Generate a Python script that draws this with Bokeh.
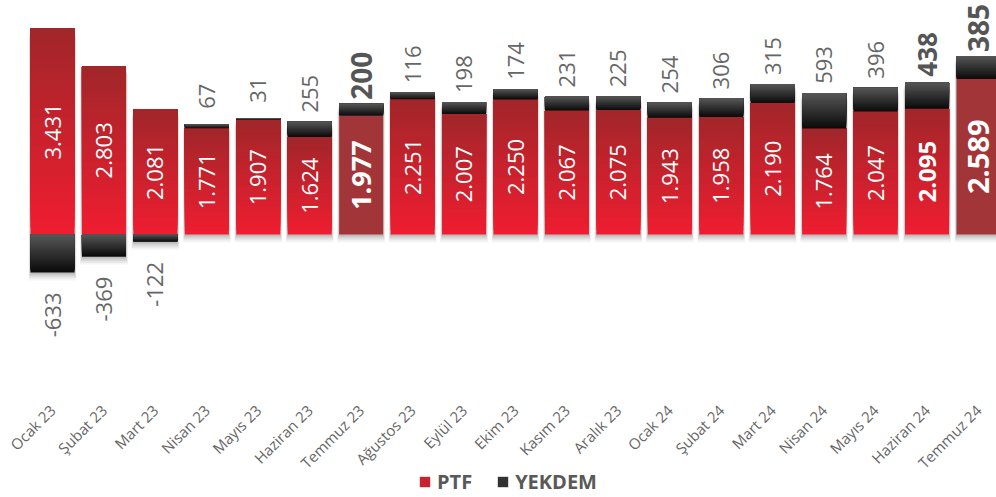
import math
from bokeh.plotting import figure
from bokeh.models import (ColumnDataSource, Legend, LegendItem, Range1d)
from bokeh.core.properties import value
from bokeh.embed import file_html
from bokeh.resources import INLINE

# ---------------- data ----------------
months = ["Ocak 23", "Şubat 23", "Mart 23", "Nisan 23", "Mayıs 23", "Haziran 23",
          "Temmuz 23", "Ağustos 23", "Eylül 23", "Ekim 23", "Kasım 23", "Aralık 23",
          "Ocak 24", "Şubat 24", "Mart 24", "Nisan 24", "Mayıs 24", "Haziran 24",
          "Temmuz 24"]
ptf = [3431, 2803, 2081, 1771, 1907, 1624, 1977, 2251, 2007, 2250, 2067, 2075,
       1943, 1958, 2190, 1764, 2047, 2095, 2589]
yekdem = [-633, -369, -122, 67, 31, 255, 200, 116, 198, 174, 231, 225,
          254, 306, 315, 593, 396, 438, 385]
highlight = [6, 18]          # solid coloured months
bold_idx = [6, 17, 18]       # bold labels

# ---------------- layout constants ----------------
FRAME_H = 497
FRAME_W = 996
PXU = 16.655                  # data units per pixel
Y1 = 3897
Y0 = Y1 - FRAME_H * PXU
X0, X1 = -1.011, 18.35
px = PXU
BAR_W = 0.855
N = 28
MONTH_Y = Y1 - 407 * PXU      # row of the month labels

def fmt(v):
    return f"{v:,}".replace(",", ".")

def hex2rgb(h):
    h = h.lstrip("#")
    return tuple(int(h[i:i + 2], 16) for i in (0, 2, 4))

def lerp(c1, c2, t):
    a, b = hex2rgb(c1), hex2rgb(c2)
    return "#%02x%02x%02x" % tuple(round(a[i] + (b[i] - a[i]) * t) for i in range(3))

RED_BOT, RED_TOP = "#EE1D30", "#A2262A"
BLK_BOT, BLK_TOP = "#0b0b0b", "#565656"
HL = "#A23537"

p = figure(frame_width=FRAME_W, frame_height=FRAME_H, output_backend="svg",
           toolbar_location=None, x_range=Range1d(X0, X1), y_range=Range1d(Y0, Y1),
           x_axis_location=None, y_axis_location=None,
           min_border_left=0, min_border_right=0, min_border_top=0, min_border_bottom=0)
p.outline_line_color = None
p.grid.visible = False
p.background_fill_color = "white"
p.border_fill_color = "white"

# ---------------- shadows ----------------
n = len(months)
tops = [ptf[i] + max(yekdem[i], 0) for i in range(n)]
bots = [min(yekdem[i], 0) for i in range(n)]
for off, alpha, grow in [(2, 0.10, 1), (4, 0.08, 2), (6, 0.06, 3), (8, 0.04, 4)]:
    gx = grow * (X1 - X0) / FRAME_W
    p.quad(left=[i - BAR_W / 2 - gx / 2 for i in range(n)],
           right=[i + BAR_W / 2 + gx / 2 for i in range(n)],
           bottom=[b - off * px for b in bots], top=[t - off * px for t in tops],
           fill_color="black", fill_alpha=alpha, line_color=None)

# ---------------- gradient bars ----------------
pt = dict(left=[], right=[], bottom=[], top=[], color=[])
yk = dict(left=[], right=[], bottom=[], top=[], color=[])
def add(d, i, b, t, c):
    d["left"].append(i - BAR_W / 2); d["right"].append(i + BAR_W / 2)
    d["bottom"].append(b); d["top"].append(t); d["color"].append(c)

for i in range(n):
    if i in highlight:
        add(pt, i, 0, ptf[i], HL)
    else:
        for k in range(N):
            add(pt, i, ptf[i] * k / N, ptf[i], lerp(RED_BOT, RED_TOP, k / (N - 1)))
    if yekdem[i] >= 0:
        lo, hi = ptf[i], ptf[i] + yekdem[i]
    else:
        lo, hi = yekdem[i], 0
    for k in range(N):
        add(yk, i, lo + (hi - lo) * k / N, hi, lerp(BLK_BOT, BLK_TOP, k / (N - 1)))

r_ptf = p.quad(source=ColumnDataSource(pt), left="left", right="right", bottom="bottom",
               top="top", fill_color="color", line_color=None)
r_yek = p.quad(source=ColumnDataSource(yk), left="left", right="right", bottom="bottom",
               top="top", fill_color="color", line_color=None)

# ---------------- value labels ----------------
in_size = {6: "27px", 17: "24px", 18: "29px"}
src_in = ColumnDataSource(dict(
    x=list(range(n)), y=[v / 2 for v in ptf], t=[fmt(v) for v in ptf],
    size=[in_size.get(i, "22px") for i in range(n)],
    style=["bold" if i in bold_idx else "normal" for i in range(n)]))
p.text(x="x", y="y", text="t", source=src_in, angle=math.pi / 2,
       text_align="center", text_baseline="middle", text_color="white",
       text_font=value("Open Sans"), text_font_size="size", text_font_style="style")

pos = [i for i in range(n) if yekdem[i] >= 0]
out_size = {6: "28px", 17: "26px", 18: "28px"}
src_pos = ColumnDataSource(dict(
    x=pos, y=[tops[i] + 28 * px for i in pos], t=[fmt(yekdem[i]) for i in pos],
    size=[out_size.get(i, "22px") for i in pos],
    style=["bold" if i in bold_idx else "normal" for i in pos],
    color=["#555555" if i in bold_idx else "#666666" for i in pos]))
p.text(x="x", y="y", text="t", source=src_pos, angle=math.pi / 2,
       text_align="center", text_baseline="middle", text_color="color",
       text_font=value("Open Sans"), text_font_size="size", text_font_style="style")

neg = [i for i in range(n) if yekdem[i] < 0]
src_neg = ColumnDataSource(dict(
    x=neg, y=[yekdem[i] - 20 * px for i in neg], t=[str(yekdem[i]) for i in neg]))
p.text(x="x", y="y", text="t", source=src_neg, angle=math.pi / 2,
       text_align="right", text_baseline="middle", text_color="#666666",
       text_font=value("Open Sans"), text_font_size="22px")

# ---------------- month (category) labels ----------------
src_m = ColumnDataSource(dict(x=list(range(n)), y=[MONTH_Y] * n, t=months))
p.text(x="x", y="y", text="t", source=src_m, angle=math.pi / 4,
       text_align="right", text_baseline="middle", text_color="#666666",
       text_font=value("Open Sans"), text_font_size="15px")

# ---------------- legend ----------------
legend = Legend(items=[LegendItem(label="PTF", renderers=[r_ptf], index=N // 2),
                       LegendItem(label="YEKDEM", renderers=[r_yek], index=N // 2)],
                orientation="horizontal", location=(418, 2),
                label_text_font="Open Sans", label_text_font_style="bold",
                label_text_font_size="20px", label_text_color="#595959",
                glyph_width=13, glyph_height=13, spacing=24, label_standoff=6,
                border_line_color=None, background_fill_alpha=0, padding=0, margin=0)
p.add_layout(legend, "center")

open("out.html", "w").write(file_html(p, INLINE))
